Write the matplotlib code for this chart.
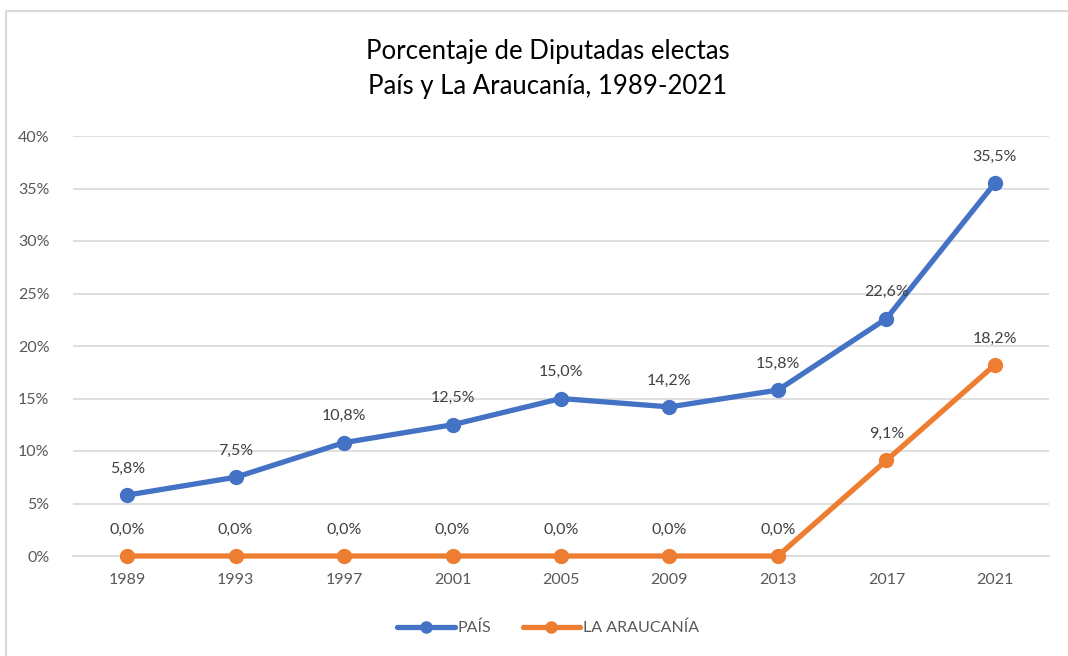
import matplotlib.pyplot as plt
from matplotlib.patches import Rectangle

plt.rcParams['font.family'] = ['Lato', 'DejaVu Sans']

years = ['1989', '1993', '1997', '2001', '2005', '2009', '2013', '2017', '2021']
pais = [5.8, 7.5, 10.8, 12.5, 15.0, 14.2, 15.8, 22.6, 35.5]
araucania = [0.0, 0.0, 0.0, 0.0, 0.0, 0.0, 0.0, 9.1, 18.2]
yticks = [0, 5, 10, 15, 20, 25, 30, 35, 40]

blue = '#4472C4'
orange = '#ED7D31'

fig = plt.figure(figsize=(10.68, 6.56), dpi=100)
ax = fig.add_axes([73/1068, 1 - 556/656, (1049 - 73)/1068, 420/656])

# light chart border like the Excel chart frame
fig.patches.append(Rectangle((6/1068, -0.1), 1.2, 1 - 11/656 + 0.1,
                             transform=fig.transFigure, fill=False,
                             edgecolor='#d9d9d9', linewidth=1.5))

x = range(len(years))
ax.plot(x, pais, color=blue, lw=3.8, marker='o', ms=10, label='PAÍS',
        solid_capstyle='round', zorder=3)
ax.plot(x, araucania, color=orange, lw=3.8, marker='o', ms=10, label='LA ARAUCANÍA',
        solid_capstyle='round', zorder=3)

for xi, v in zip(x, pais):
    ax.annotate(f'{v:.1f}%'.replace('.', ','), (xi, v), xytext=(0, 14),
                textcoords='offset points', ha='center', va='bottom',
                fontsize=11.5, color='#404040')
for xi, v in zip(x, araucania):
    ax.annotate(f'{v:.1f}%'.replace('.', ','), (xi, v), xytext=(0, 14),
                textcoords='offset points', ha='center', va='bottom',
                fontsize=11.5, color='#404040')

ax.set_xlim(-0.5, len(years) - 0.5)
ax.set_ylim(0, 40)
ax.set_xticks(list(x))
ax.set_xticklabels(years)
ax.set_yticks(yticks)
ax.set_yticklabels([f'{t}%' for t in yticks])
ax.tick_params(axis='both', length=0, labelsize=11.5, labelcolor='#595959')
ax.tick_params(axis='y', pad=17)
ax.tick_params(axis='x', pad=12)
ax.grid(axis='y', color='#d9d9d9', lw=1.2)
ax.set_axisbelow(True)
for s in ['top', 'right', 'left']:
    ax.spines[s].set_visible(False)
ax.spines['bottom'].set_color('#d9d9d9')
ax.spines['bottom'].set_linewidth(1.2)
for ln in ax.lines:
    ln.set_clip_on(False)

fig.text(548/1068, 1 - 69/656, 'Porcentaje de Diputadas electas\nPaís y La Araucanía, 1989-2021',
         ha='center', va='center', fontsize=18.5, color='#000000', linespacing=1.5)

fig.legend(loc='center', bbox_to_anchor=(548/1068, 1 - 628/656), ncol=2, frameon=False,
           fontsize=11.5, labelcolor='#595959', handlelength=3.6, handletextpad=0.15,
           columnspacing=2.0, markerscale=0.8)

fig.savefig('out.png', dpi=100)
